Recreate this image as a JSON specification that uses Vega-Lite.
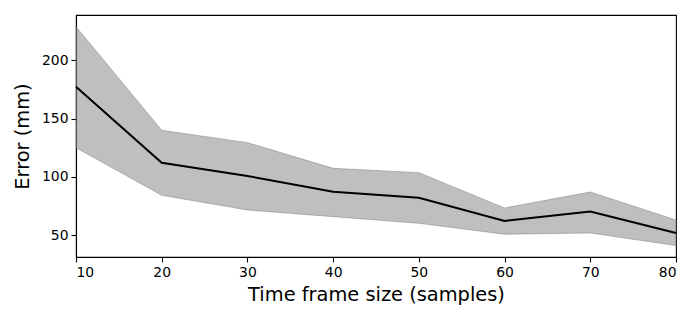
{
  "$schema": "https://vega.github.io/schema/vega-lite/v6.json",
  "width": 600,
  "height": 242,
  "autosize": {"type": "none"},
  "padding": {"left": 76, "top": 15, "right": 24, "bottom": 63},
  "background": "white",
  "config": {
    "font": "DejaVu Sans",
    "view": {"stroke": "black", "strokeWidth": 1.1},
    "axis": {
      "domainColor": "black",
      "domainWidth": 1.1,
      "tickColor": "black",
      "tickWidth": 1.1,
      "tickSize": 5,
      "labelColor": "black",
      "labelFont": "DejaVu Sans",
      "labelFontSize": 13.9,
      "labelPadding": 3,
      "titleFont": "DejaVu Sans",
      "titleFontSize": 19.4,
      "titleFontWeight": "normal",
      "titleColor": "black",
      "grid": false
    }
  },
  "data": {
    "values": [
      {"frame": 10, "mean": 177.4, "lower": 125.1, "upper": 228.8},
      {"frame": 20, "mean": 112.2, "lower": 84.3, "upper": 140.0},
      {"frame": 30, "mean": 100.8, "lower": 71.7, "upper": 129.4},
      {"frame": 40, "mean": 87.4, "lower": 66.0, "upper": 107.4},
      {"frame": 50, "mean": 82.2, "lower": 60.3, "upper": 103.7},
      {"frame": 60, "mean": 62.3, "lower": 50.9, "upper": 73.4},
      {"frame": 70, "mean": 70.3, "lower": 52.0, "upper": 87.1},
      {"frame": 80, "mean": 52.0, "lower": 41.2, "upper": 63.1}
    ]
  },
  "encoding": {
    "x": {
      "field": "frame",
      "type": "quantitative",
      "scale": {"domain": [10, 80], "nice": false, "zero": false},
      "axis": {
        "values": [10, 20, 30, 40, 50, 60, 70, 80],
        "title": "Time frame size (samples)",
        "titlePadding": 7
      }
    }
  },
  "layer": [
    {
      "mark": {
        "type": "area",
        "fill": "#808080",
        "fillOpacity": 0.5,
        "stroke": "#808080",
        "strokeOpacity": 0.5,
        "strokeWidth": 1
      },
      "encoding": {
        "y": {
          "field": "upper",
          "type": "quantitative",
          "scale": {"domain": [31.4, 238.8], "nice": false, "zero": false},
          "axis": {
            "values": [50, 100, 150, 200],
            "title": "Error (mm)",
            "titlePadding": 9
          }
        },
        "y2": {"field": "lower"}
      }
    },
    {
      "mark": {"type": "line", "color": "black", "strokeWidth": 2},
      "encoding": {
        "y": {"field": "mean", "type": "quantitative"}
      }
    }
  ]
}
